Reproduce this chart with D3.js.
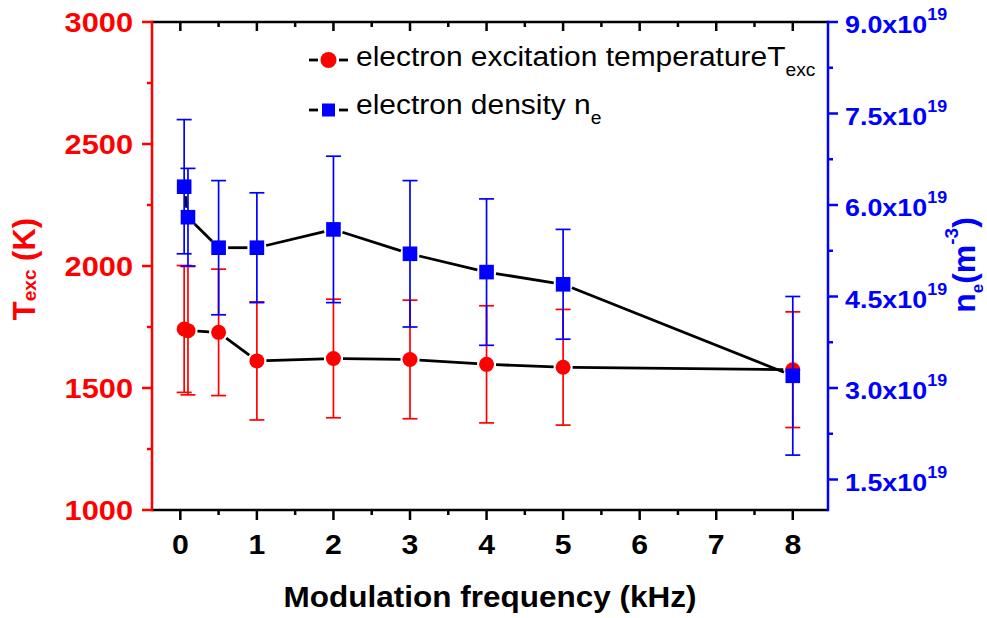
<!DOCTYPE html>
<html>
<head>
<meta charset="utf-8">
<script src="https://cdn.jsdelivr.net/npm/d3@7"></script>
<style>
  html, body { margin: 0; padding: 0; background: #fff; }
  svg { display: block; font-family: "Liberation Sans", Arial, sans-serif; }
</style>
</head>
<body>
<svg id="chart" width="987" height="618"></svg>
<script>
// ---------------- data ----------------
const freq = [0.05, 0.1, 0.5, 1, 2, 3, 4, 5, 8];                         // kHz
const texc = [1742, 1735, 1728, 1611, 1621, 1617, 1597, 1585, 1575];      // K
const texcErr = [260, 263, 259, 242, 243, 243, 240, 237, 237];            // K
const ne = [6.3, 5.8, 5.3, 5.3, 5.6, 5.2, 4.9, 4.7, 3.2];                 // x10^19 m^-3
const neErr = [1.1, 0.8, 1.1, 0.9, 1.2, 1.2, 1.2, 0.9, 1.3];              // x10^19 m^-3

const xTicks = [0, 1, 2, 3, 4, 5, 6, 7, 8];
const xMinor = [0.5, 1.5, 2.5, 3.5, 4.5, 5.5, 6.5, 7.5];
const yLTicks = [1000, 1500, 2000, 2500, 3000];
const yLMinor = [1250, 1750, 2250, 2750];
const yRTicks = [1.5, 3.0, 4.5, 6.0, 7.5, 9.0];
const yRMinor = [2.25, 3.75, 5.25, 6.75, 8.25];

const RED = "#ff0000", BLUE = "#0000ff", BLACK = "#000";

// ---------------- layout ----------------
const L = 152, R = 828, T = 22, B = 510;
const svg = d3.select("#chart");
const x = d3.scaleLinear().domain([-0.37, 8.46]).range([L, R]);
const yL = d3.scaleLinear().domain([1000, 3000]).range([B, T]);
const yR = d3.scaleLinear().domain([1, 9]).range([B, T]);

const place = (px, py, sx) => `translate(${px},${py}) scale(${sx},1)`;

// ---------------- axes ----------------
const gB = svg.append("g");
gB.selectAll("line.maj").data(xTicks).join("line")
  .attr("x1", d => x(d)).attr("x2", d => x(d)).attr("y1", B).attr("y2", B + 10)
  .attr("stroke", BLACK).attr("stroke-width", 2.5);
gB.selectAll("line.min").data(xMinor).join("line")
  .attr("x1", d => x(d)).attr("x2", d => x(d)).attr("y1", B).attr("y2", B + 5)
  .attr("stroke", BLACK).attr("stroke-width", 2.5);
gB.selectAll("text").data(xTicks).join("text")
  .attr("transform", d => place(x(d), 554, 1.12))
  .attr("text-anchor", "middle").attr("font-size", 27).attr("font-weight", "bold")
  .attr("fill", BLACK).text(d => d);

const gT = svg.append("g");
gT.selectAll("line.maj").data(xTicks).join("line")
  .attr("x1", d => x(d)).attr("x2", d => x(d)).attr("y1", T).attr("y2", T + 9)
  .attr("stroke", BLACK).attr("stroke-width", 2.5);
gT.selectAll("line.min").data(xMinor).join("line")
  .attr("x1", d => x(d)).attr("x2", d => x(d)).attr("y1", T).attr("y2", T + 5)
  .attr("stroke", BLACK).attr("stroke-width", 2.5);

svg.append("line").attr("x1", L).attr("x2", R).attr("y1", B).attr("y2", B)
  .attr("stroke", BLACK).attr("stroke-width", 2.5);
svg.append("line").attr("x1", L).attr("x2", R).attr("y1", T).attr("y2", T)
  .attr("stroke", BLACK).attr("stroke-width", 2.5);

const gL = svg.append("g");
gL.selectAll("line.maj").data(yLTicks).join("line")
  .attr("x1", L - 10).attr("x2", L).attr("y1", d => yL(d)).attr("y2", d => yL(d))
  .attr("stroke", RED).attr("stroke-width", 2.5);
gL.selectAll("line.min").data(yLMinor).join("line")
  .attr("x1", L - 5).attr("x2", L).attr("y1", d => yL(d)).attr("y2", d => yL(d))
  .attr("stroke", RED).attr("stroke-width", 2.5);
gL.selectAll("text").data(yLTicks).join("text")
  .attr("transform", d => place(133, yL(d) + 10, 1.14))
  .attr("text-anchor", "end").attr("font-size", 27).attr("font-weight", "bold")
  .attr("fill", RED).text(d => d);
svg.append("line").attr("x1", L).attr("x2", L).attr("y1", T - 1.25).attr("y2", B + 1.25)
  .attr("stroke", RED).attr("stroke-width", 2.5);

const gR = svg.append("g");
gR.selectAll("line.maj").data(yRTicks).join("line")
  .attr("x1", R).attr("x2", R + 10).attr("y1", d => yR(d)).attr("y2", d => yR(d))
  .attr("stroke", BLUE).attr("stroke-width", 2.5);
gR.selectAll("line.min").data(yRMinor).join("line")
  .attr("x1", R).attr("x2", R + 5).attr("y1", d => yR(d)).attr("y2", d => yR(d))
  .attr("stroke", BLUE).attr("stroke-width", 2.5);
const rt = gR.selectAll("text").data(yRTicks).join("text")
  .attr("transform", d => place(845, yR(d) + 11, 1.12))
  .attr("font-size", 24).attr("font-weight", "bold").attr("fill", BLUE);
rt.append("tspan").text(d => d.toFixed(1) + "x10");
rt.append("tspan").attr("dy", -13).attr("font-size", 16).text("19");
svg.append("line").attr("x1", R).attr("x2", R).attr("y1", T - 1.25).attr("y2", B + 1.25)
  .attr("stroke", BLUE).attr("stroke-width", 2.5);

// axis titles
svg.append("text").attr("transform", place(490, 607, 1.05)).attr("text-anchor", "middle")
  .attr("font-size", 30).attr("font-weight", "bold").attr("fill", BLACK)
  .text("Modulation frequency (kHz)");

const tl = svg.append("text").attr("transform", "translate(35,269) rotate(-90)")
  .attr("text-anchor", "middle").attr("font-size", 31).attr("font-weight", "bold").attr("fill", RED);
tl.append("tspan").text("T");
tl.append("tspan").attr("font-size", 19).attr("dy", 1).text("exc");
tl.append("tspan").attr("dy", -1).text(" (K)");

const tr = svg.append("text").attr("transform", "translate(975,265) rotate(-90)")
  .attr("text-anchor", "middle").attr("font-size", 32).attr("font-weight", "bold").attr("fill", BLUE);
tr.append("tspan").text("n");
tr.append("tspan").attr("font-size", 17).attr("dy", 8).text("e");
tr.append("tspan").attr("dy", -8).text("(m");
tr.append("tspan").attr("font-size", 19).attr("dy", -17).text("-3");
tr.append("tspan").attr("dy", 17).text(")");

// ---------------- series ----------------
const redPts = freq.map((f, i) => ({ px: x(f), py: yL(texc[i]), lo: yL(texc[i] - texcErr[i]), hi: yL(texc[i] + texcErr[i]) }));
const bluePts = freq.map((f, i) => ({ px: x(f), py: yR(ne[i]), lo: yR(ne[i] - neErr[i]), hi: yR(ne[i] + neErr[i]) }));

function gapSegments(pts, gap) {
  const segs = [];
  for (let i = 0; i < pts.length - 1; i++) {
    const a = pts[i], b = pts[i + 1];
    const dx = b.px - a.px, dy = b.py - a.py, len = Math.hypot(dx, dy);
    if (len <= 2 * gap) continue;
    const ux = dx / len, uy = dy / len;
    segs.push([a.px + ux * gap, a.py + uy * gap, b.px - ux * gap, b.py - uy * gap]);
  }
  return segs;
}

function drawErr(g, pts, color) {
  g.selectAll("line.v").data(pts).join("line").attr("class", "v")
    .attr("x1", d => d.px).attr("x2", d => d.px).attr("y1", d => d.hi).attr("y2", d => d.lo)
    .attr("stroke", color).attr("stroke-width", 1.7);
  g.selectAll("line.t").data(pts).join("line").attr("class", "t")
    .attr("x1", d => d.px - 7.5).attr("x2", d => d.px + 7.5).attr("y1", d => d.hi).attr("y2", d => d.hi)
    .attr("stroke", color).attr("stroke-width", 1.7);
  g.selectAll("line.b").data(pts).join("line").attr("class", "b")
    .attr("x1", d => d.px - 7.5).attr("x2", d => d.px + 7.5).attr("y1", d => d.lo).attr("y2", d => d.lo)
    .attr("stroke", color).attr("stroke-width", 1.7);
}

const gRed = svg.append("g");
const gBlue = svg.append("g");

gRed.selectAll("line.seg").data(gapSegments(redPts, 9.5)).join("line").attr("class", "seg")
  .attr("x1", d => d[0]).attr("y1", d => d[1]).attr("x2", d => d[2]).attr("y2", d => d[3])
  .attr("stroke", BLACK).attr("stroke-width", 2.8);
gBlue.selectAll("line.seg").data(gapSegments(bluePts, 9.5)).join("line").attr("class", "seg")
  .attr("x1", d => d[0]).attr("y1", d => d[1]).attr("x2", d => d[2]).attr("y2", d => d[3])
  .attr("stroke", BLACK).attr("stroke-width", 2.8);

drawErr(gRed, redPts, RED);
gRed.selectAll("circle").data(redPts).join("circle")
  .attr("cx", d => d.px).attr("cy", d => d.py).attr("r", 7.5).attr("fill", RED);

drawErr(gBlue, bluePts, BLUE);
gBlue.selectAll("rect").data(bluePts).join("rect")
  .attr("x", d => d.px - 7.3).attr("y", d => d.py - 7.3).attr("width", 14.6).attr("height", 14.6).attr("fill", BLUE);

// ---------------- legend ----------------
const lg = svg.append("g");
const legendRows = [
  { y: 60, sym: "circle" },
  { y: 110, sym: "square" }
];
legendRows.forEach(r => {
  lg.append("line").attr("x1", 309).attr("x2", 318).attr("y1", r.y).attr("y2", r.y).attr("stroke", BLACK).attr("stroke-width", 2.8);
  lg.append("line").attr("x1", 339).attr("x2", 348).attr("y1", r.y).attr("y2", r.y).attr("stroke", BLACK).attr("stroke-width", 2.8);
  if (r.sym === "circle") lg.append("circle").attr("cx", 328.5).attr("cy", r.y).attr("r", 8).attr("fill", RED);
  else lg.append("rect").attr("x", 322).attr("y", r.y - 6.5).attr("width", 13).attr("height", 13).attr("fill", BLUE);
});
const t1 = lg.append("text").attr("transform", place(356, 66, 1.07)).attr("font-size", 28).attr("fill", BLACK);
t1.append("tspan").text("electron excitation temperatureT");
t1.append("tspan").attr("font-size", 18).attr("dy", 10).text("exc");
const t2 = lg.append("text").attr("transform", place(356, 114, 1.07)).attr("font-size", 28).attr("fill", BLACK);
t2.append("tspan").text("electron density n");
t2.append("tspan").attr("font-size", 18).attr("dy", 10).text("e");
</script>
</body>
</html>
